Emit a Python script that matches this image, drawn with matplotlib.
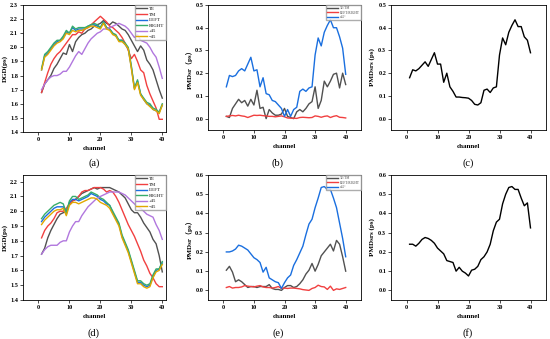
import matplotlib
matplotlib.use('Agg')
import matplotlib.pyplot as plt
import numpy as np

plt.rcParams['font.family'] = ['Liberation Serif', 'Noto Sans CJK SC']
plt.rcParams['font.weight'] = 'bold'

channel = np.arange(1, 41)

# (a) DGD, first row
a_te = [1.68, 1.74, 1.77, 1.80, 1.85, 1.88, 1.92, 1.96, 1.95, 2.02, 1.97, 2.04, 2.07, 2.09, 2.10, 2.12, 2.13, 2.15, 2.16, 2.17,
        2.19, 2.17, 2.16, 2.18, 2.17, 2.15, 2.13, 2.12, 2.09, 2.05, 2.01, 1.97, 2.01, 1.98, 1.91, 1.88, 1.84, 1.77, 1.70, 1.64]
a_tm = [1.68, 1.75, 1.82, 1.88, 1.92, 1.95, 1.97, 2.00, 2.03, 2.06, 2.09, 2.09, 2.11, 2.10, 2.13, 2.14, 2.16, 2.18, 2.20, 2.22,
        2.20, 2.18, 2.15, 2.14, 2.12, 2.10, 2.07, 2.03, 1.98, 1.92, 1.95, 1.90, 1.84, 1.82, 1.73, 1.67, 1.62, 1.57, 1.49, 1.49]
a_left = [1.84, 1.94, 1.96, 1.99, 2.02, 2.04, 2.05, 2.07, 2.11, 2.10, 2.14, 2.12, 2.13, 2.13, 2.13, 2.15, 2.16, 2.16, 2.15, 2.14,
          2.18, 2.14, 2.13, 2.10, 2.08, 2.05, 2.05, 2.02, 1.99, 1.86, 1.71, 1.76, 1.67, 1.63, 1.60, 1.59, 1.56, 1.55, 1.54, 1.59]
a_right = [1.85, 1.95, 1.97, 2.00, 2.03, 2.05, 2.05, 2.08, 2.12, 2.10, 2.15, 2.13, 2.14, 2.14, 2.14, 2.15, 2.16, 2.17, 2.16, 2.14,
           2.18, 2.14, 2.13, 2.10, 2.09, 2.05, 2.05, 2.03, 2.00, 1.87, 1.71, 1.77, 1.67, 1.64, 1.61, 1.60, 1.57, 1.56, 1.54, 1.60]
a_p45 = [1.70, 1.74, 1.77, 1.79, 1.80, 1.80, 1.81, 1.83, 1.83, 1.86, 1.90, 1.94, 1.97, 1.95, 1.99, 2.03, 2.06, 2.08, 2.10, 2.11,
         2.13, 2.13, 2.14, 2.15, 2.16, 2.17, 2.16, 2.15, 2.13, 2.10, 2.07, 2.09, 2.05, 2.04, 2.03, 2.00, 1.96, 1.93, 1.86, 1.78]
a_m45 = [1.84, 1.93, 1.95, 1.98, 2.01, 2.03, 2.04, 2.06, 2.10, 2.09, 2.12, 2.11, 2.12, 2.12, 2.13, 2.14, 2.15, 2.15, 2.14, 2.13,
         2.17, 2.13, 2.12, 2.09, 2.08, 2.04, 2.04, 2.02, 1.99, 1.85, 1.70, 1.75, 1.66, 1.63, 1.60, 1.58, 1.56, 1.55, 1.53, 1.59]

# (b) PMDsr, first row
b_tetm = [0.010, 0.005, 0.045, 0.065, 0.085, 0.070, 0.080, 0.055, 0.085, 0.060, 0.125, 0.045, 0.050, 0.000, 0.040, 0.025, 0.015, 0.015, 0.020, 0.045,
          0.010, 0.005, 0.000, 0.030, 0.040, 0.030, 0.045, 0.065, 0.075, 0.140, 0.045, 0.080, 0.165, 0.140, 0.165, 0.195, 0.200, 0.135, 0.200, 0.150]
b_lr = [0.010, 0.012, 0.014, 0.012, 0.015, 0.012, 0.010, 0.005, 0.010, 0.015, 0.014, 0.015, 0.013, 0.012, 0.010, 0.010, 0.008, 0.010, 0.012, 0.008,
        0.003, 0.002, 0.002, 0.001, 0.005, 0.006, 0.005, 0.004, 0.005, 0.012, 0.010, 0.006, 0.010, 0.012, 0.005, 0.010, 0.013, 0.006, 0.005, 0.003]
b_pm45 = [0.140, 0.190, 0.185, 0.190, 0.210, 0.220, 0.210, 0.240, 0.270, 0.210, 0.215, 0.140, 0.180, 0.110, 0.105, 0.080, 0.075, 0.060, 0.045, 0.010,
          0.040, 0.010, 0.040, 0.050, 0.120, 0.130, 0.120, 0.135, 0.140, 0.280, 0.355, 0.320, 0.380, 0.410, 0.435, 0.400, 0.400, 0.360, 0.310, 0.195]

# (c) PMDsrs, first row
c_pmd = [0.180, 0.215, 0.210, 0.220, 0.235, 0.250, 0.230, 0.260, 0.290, 0.240, 0.240, 0.160, 0.200, 0.140, 0.120, 0.095, 0.095, 0.093, 0.092, 0.090,
         0.080, 0.063, 0.060, 0.070, 0.125, 0.130, 0.115, 0.135, 0.140, 0.280, 0.355, 0.325, 0.380, 0.410, 0.435, 0.405, 0.405, 0.360, 0.345, 0.290]

# (d) DGD, second row
d_te = [1.71, 1.75, 1.82, 1.87, 1.91, 1.95, 1.98, 1.99, 2.00, 2.05, 2.07, 2.08, 2.10, 2.12, 2.13, 2.14, 2.15, 2.16, 2.15, 2.16,
        2.16, 2.16, 2.16, 2.15, 2.14, 2.13, 2.11, 2.09, 2.05, 2.01, 1.99, 1.99, 1.96, 1.92, 1.89, 1.86, 1.81, 1.78, 1.70, 1.59]
d_tm = [1.82, 1.87, 1.90, 1.92, 1.95, 1.99, 2.00, 2.00, 2.02, 2.05, 2.07, 2.08, 2.10, 2.13, 2.14, 2.14, 2.15, 2.16, 2.16, 2.16,
        2.15, 2.13, 2.14, 2.13, 2.10, 2.06, 2.01, 1.96, 1.91, 1.87, 1.83, 1.78, 1.73, 1.67, 1.63, 1.58, 1.55, 1.51, 1.49, 1.49]
d_left = [1.93, 1.96, 1.98, 2.00, 2.02, 2.03, 2.03, 2.03, 1.98, 2.06, 2.08, 2.08, 2.07, 2.08, 2.09, 2.10, 2.12, 2.11, 2.10, 2.08,
          2.07, 2.05, 2.04, 1.99, 1.95, 1.91, 1.83, 1.78, 1.73, 1.66, 1.59, 1.52, 1.52, 1.50, 1.49, 1.50, 1.56, 1.60, 1.61, 1.65]
d_right = [1.95, 1.98, 2.00, 2.02, 2.04, 2.05, 2.06, 2.05, 1.99, 2.07, 2.10, 2.10, 2.08, 2.09, 2.10, 2.11, 2.13, 2.12, 2.11, 2.09,
           2.08, 2.06, 2.04, 2.00, 1.96, 1.92, 1.84, 1.79, 1.74, 1.67, 1.60, 1.53, 1.53, 1.51, 1.50, 1.51, 1.57, 1.61, 1.61, 1.66]
d_p45 = [1.71, 1.74, 1.76, 1.77, 1.77, 1.77, 1.79, 1.80, 1.80, 1.86, 1.90, 1.93, 1.93, 1.97, 2.00, 2.03, 2.05, 2.07, 2.09, 2.10,
         2.11, 2.12, 2.13, 2.13, 2.13, 2.13, 2.12, 2.11, 2.09, 2.07, 2.05, 2.03, 2.02, 2.00, 1.98, 1.97, 1.96, 1.91, 1.87, 1.81]
d_m45 = [1.91, 1.94, 1.96, 1.98, 2.00, 2.01, 2.01, 2.02, 1.97, 2.04, 2.06, 2.06, 2.05, 2.06, 2.07, 2.08, 2.09, 2.09, 2.08, 2.06,
         2.05, 2.04, 2.02, 1.98, 1.94, 1.90, 1.82, 1.77, 1.72, 1.65, 1.58, 1.51, 1.51, 1.49, 1.48, 1.49, 1.55, 1.59, 1.60, 1.64]

# (e) PMDsr, second row
e_tetm = [0.105, 0.125, 0.095, 0.045, 0.055, 0.045, 0.030, 0.015, 0.020, 0.020, 0.015, 0.020, 0.020, 0.020, 0.030, 0.010, 0.005, 0.005, 0.000, 0.015,
          0.025, 0.025, 0.015, 0.020, 0.035, 0.055, 0.085, 0.105, 0.140, 0.100, 0.135, 0.180, 0.200, 0.220, 0.240, 0.205, 0.260, 0.240, 0.175, 0.100]
e_lr = [0.015, 0.020, 0.012, 0.015, 0.015, 0.018, 0.025, 0.022, 0.020, 0.018, 0.022, 0.025, 0.018, 0.015, 0.015, 0.012, 0.015, 0.020, 0.010, 0.012,
        0.010, 0.012, 0.012, 0.010, 0.008, 0.004, 0.002, 0.000, 0.010, 0.015, 0.027, 0.020, 0.018, 0.005, 0.022, 0.000, 0.008, 0.005, 0.010, 0.015]
e_pm45 = [0.200, 0.200, 0.205, 0.215, 0.235, 0.230, 0.220, 0.210, 0.190, 0.170, 0.160, 0.145, 0.095, 0.120, 0.065, 0.055, 0.045, 0.040, 0.010, 0.040,
          0.065, 0.080, 0.130, 0.160, 0.195, 0.230, 0.290, 0.345, 0.370, 0.430, 0.480, 0.535, 0.540, 0.525, 0.525, 0.480, 0.430, 0.350, 0.270, 0.175]

# (f) PMDsrs, second row
f_pmd = [0.240, 0.240, 0.230, 0.245, 0.265, 0.275, 0.270, 0.260, 0.245, 0.220, 0.205, 0.190, 0.155, 0.150, 0.145, 0.100, 0.120, 0.100, 0.090, 0.075,
         0.105, 0.110, 0.125, 0.160, 0.175, 0.200, 0.240, 0.310, 0.355, 0.370, 0.450, 0.500, 0.535, 0.540, 0.525, 0.525, 0.480, 0.440, 0.455, 0.325]

dgd_names = ['TE', 'TM', 'LEFT', 'RIGHT', '+45', '−45']
dgd_colors = ['#515151', '#F14040', '#1A6FDF', '#37AD6B', '#B177DE', '#E0A800']
pmd_names = ['TE/TM', 'LEFT/RIGHT', '±45°']
pmd_colors = ['#515151', '#F14040', '#1A6FDF']

W, H = 550, 339
fig = plt.figure(figsize=(5.5, 3.39), dpi=100)


def make_ax(left, right, top, bottom):
    # pixel box -> figure fraction
    return fig.add_axes([left / W, 1 - bottom / H, (right - left) / W, (bottom - top) / H])


def style(ax, ylabel, xmax=45):
    ax.set_xlim(-5, xmax)
    ax.set_xticks([0, 10, 20, 30, 40])
    ax.tick_params(labelsize=4.5, length=2, width=0.5, pad=1.5)
    for s in ax.spines.values():
        s.set_linewidth(0.6)
    ax.set_xlabel('channel', fontsize=5, fontweight='bold', labelpad=3)
    ax.set_ylabel(ylabel, fontsize=5, fontweight='bold', labelpad=2)
    for lab in ax.get_xticklabels() + ax.get_yticklabels():
        lab.set_fontweight('bold')


def dgd_panel(ax, series, top):
    for y, n, c in zip(series, dgd_names, dgd_colors):
        ax.plot(channel, y, color=c, lw=1.0, label=n)
    ticks = np.arange(1.4, 2.31, 0.1)
    ax.set_yticks(ticks)
    ax.set_yticklabels(['%.1f' % v for v in ticks])
    ax.set_ylim(1.4, top)
    style(ax, 'DGD(ps)', xmax=41.2)
    leg = ax.legend(loc='upper right', fontsize=3.3, frameon=True, fancybox=False, edgecolor='#999999',
                    borderaxespad=0.1, handlelength=2.2, labelspacing=0.3, borderpad=0.3, handletextpad=0.5)
    for t in leg.get_texts():
        t.set_color('#555555')


def pmd_panel(ax, series, ymax):
    for y, n, c in zip(series, pmd_names, pmd_colors):
        ax.plot(channel, y, color=c, lw=1.0, label=n)
    ax.set_ylim(-0.05, ymax)
    ax.set_yticks(np.arange(0, ymax + 0.01, 0.1))
    style(ax, 'PMDsr（ps）')
    leg = ax.legend(loc='upper right', fontsize=2.3, frameon=True, fancybox=False, edgecolor='#999999',
                    borderaxespad=0.1, handlelength=3.5, labelspacing=0.1, borderpad=0.3, handletextpad=0.5)
    for t in leg.get_texts():
        t.set_color('#777777')


def single_panel(ax, y, ymax):
    ax.plot(channel, y, color='black', lw=1.0)
    ax.set_ylim(-0.05, ymax)
    ax.set_yticks(np.arange(0, ymax + 0.01, 0.1))
    style(ax, 'PMDsrs (ps)')


ax_a = make_ax(23, 166, 5, 132)
dgd_panel(ax_a, [a_te, a_tm, a_left, a_right, a_p45, a_m45], 2.3)
ax_b = make_ax(208, 361, 5, 130)
pmd_panel(ax_b, [b_tetm, b_lr, b_pm45], 0.5)
ax_c = make_ax(391, 546, 5, 130)
single_panel(ax_c, c_pmd, 0.5)

ax_d = make_ax(23, 166, 175, 300)
dgd_panel(ax_d, [d_te, d_tm, d_left, d_right, d_p45, d_m45], 2.245)
ax_e = make_ax(208, 361, 175, 300)
pmd_panel(ax_e, [e_tetm, e_lr, e_pm45], 0.6)
ax_f = make_ax(391, 546, 175, 300)
single_panel(ax_f, f_pmd, 0.6)

for lab, x, y in [('(a)', 94, 163), ('(b)', 278, 163), ('(c)', 468, 163),
                  ('(d)', 94, 333), ('(e)', 278, 333), ('(f)', 468, 333)]:
    fig.text(x / W, 1 - y / H, lab, ha='center', va='center', fontsize=7.5, fontweight='normal')

fig.savefig('out.png', dpi=100)
